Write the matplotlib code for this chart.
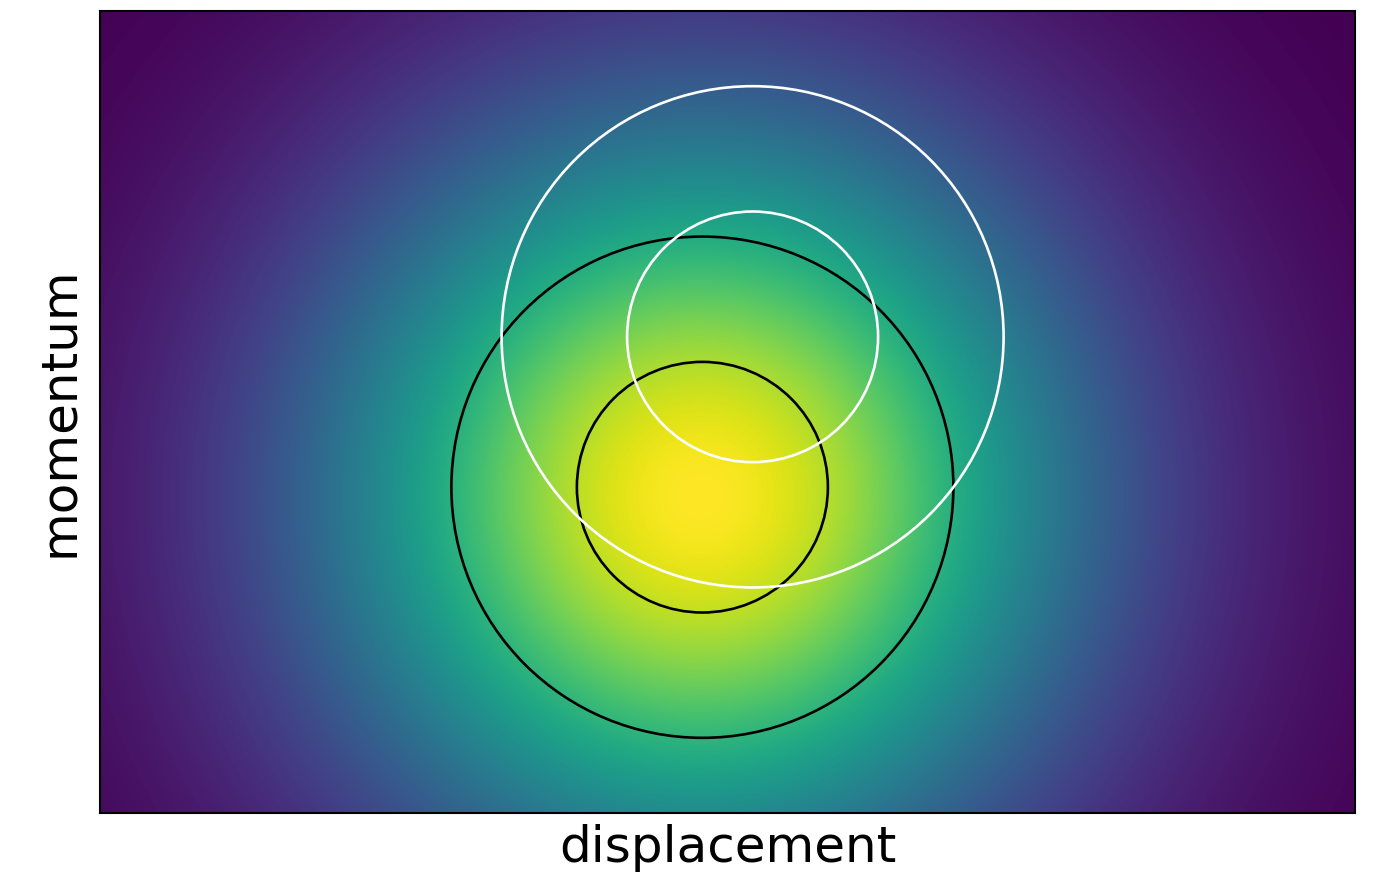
import numpy as np
import matplotlib.pyplot as plt
from matplotlib.patches import Circle

# phase-space window (displacement, momentum)
x_range = [-5.0, 5.0]
p_range = [-3.2, 3.2]

# gaussian density peak and width
peak = [-0.22, -0.68]
sigma = 2.1

# circles: centre x, centre p, radius, colour
circ_x = [-0.2, -0.2, 0.2, 0.2]
circ_p = [-0.6, -0.6, 0.6, 0.6]
circ_r = [1.0, 2.0, 1.0, 2.0]
circ_c = ["black", "black", "white", "white"]


def main():
    fig = plt.figure(figsize=(13.73, 8.73), dpi=100)
    ax = fig.add_axes([0.0728, 0.0687, 0.9141, 0.9187])

    xs = np.linspace(x_range[0], x_range[1], 800)
    ps = np.linspace(p_range[0], p_range[1], 520)
    X, P = np.meshgrid(xs, ps)
    Z = np.exp(-((X - peak[0]) ** 2 + (P - peak[1]) ** 2) / (2 * sigma ** 2))

    ax.imshow(Z, cmap="viridis", origin="lower", interpolation="bilinear",
              extent=[x_range[0], x_range[1], p_range[0], p_range[1]])

    for cx, cp, r, c in zip(circ_x, circ_p, circ_r, circ_c):
        ax.add_patch(Circle((cx, cp), r, fill=False, edgecolor=c, lw=1.9))

    ax.set_xlim(x_range)
    ax.set_ylim(p_range)
    ax.set_aspect("auto")
    ax.set_xticks([])
    ax.set_yticks([])
    for s in ax.spines.values():
        s.set_linewidth(1.5)
    ax.set_xlabel("displacement", fontsize=36, labelpad=8)
    ax.set_ylabel("momentum", fontsize=36, labelpad=12)

    fig.savefig("out.png", dpi=100)


if __name__ == "__main__":
    main()
